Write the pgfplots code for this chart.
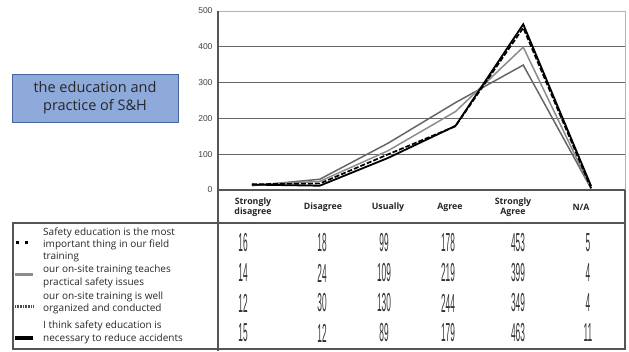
\documentclass[border=0pt]{standalone}
\usepackage{fontspec}
\setmainfont{Open Sans}
\newfontfamily\narrow[FakeStretch=0.32]{Liberation Sans}
\newfontfamily\ticksf{Liberation Sans}
\usepackage{pgfplots}
\pgfplotsset{compat=1.18}
\usepackage{pgfplotstable}
\definecolor{boxblue}{RGB}{142,170,219}
\definecolor{boxedge}{RGB}{70,100,160}
\definecolor{frame}{RGB}{85,85,85}

\pgfplotstableread{
x  s1  s2  s3  s4
0  16  14  12  15
1  18  24  30  12
2  99  109 130 89
3  178 219 244 179
4  453 399 349 463
5  5   4   4   11
}\datatab

\begin{document}
\begin{tikzpicture}[x=1pt,y=1pt]
\useasboundingbox (0,0) rectangle (629,351);
\begin{axis}[
  at={(218pt,161pt)}, anchor=south west,
  scale only axis, width=407pt, height=179pt,
  xmin=-0.5, xmax=5.5, ymin=0, ymax=500,
  xtick=\empty, ytick={0,100,...,500},
  ymajorgrids, grid style={black!60, line width=0.9pt},
  axis line style={black!30, line width=0.8pt},
  major tick length=0pt,
  tick label style={font=\ticksf\fontsize{8.5}{8.5}\selectfont, text=black!75},
  /pgf/number format/assume math mode=true,
  yticklabel style={xshift=-2pt},
  clip=false,
]
\addplot[black!60, line width=1.5pt] table[x=x,y=s3]{\datatab};
\addplot[black!45, line width=1.5pt] table[x=x,y=s2]{\datatab};
\addplot[black, line width=1.7pt, dash pattern=on 5pt off 2pt] table[x=x,y=s1]{\datatab};
\addplot[black, line width=1.8pt] table[x=x,y=s4]{\datatab};
\end{axis}

% frame lines
\draw[frame, line width=1.5pt] (218,0) -- (218,340);
\draw[frame, line width=1.5pt] (218,161) -- (625,161);
\draw[frame, line width=1.2pt] (625,161) -- (625,2);
\draw[frame, line width=1.5pt] (13,128) rectangle (625,2);

% header labels
\begin{scope}[font=\bfseries\fontsize{8.8}{10}\selectfont, align=center, text=black!85]
\node at (253,144) {Strongly\\disagree};
\node at (323,144) {Disagree};
\node at (388,144) {Usually};
\node at (450,144) {Agree};
\node at (513,144) {Strongly\\Agree};
\node at (581,144) {N/A};
\end{scope}

% table values
\begin{scope}[font=\narrow\fontsize{26}{26}\selectfont, text=black!80]
\foreach \a/\b/\c/\d/\e/\f [count=\r from 0] in {16/18/99/178/453/5, 14/24/109/219/399/4, 12/30/130/244/349/4, 15/12/89/179/463/11}{
  \pgfmathsetmacro{\yy}{108-30*\r}
  \node at (243,\yy) {\a};
  \node at (322,\yy) {\b};
  \node at (384,\yy) {\c};
  \node at (448,\yy) {\d};
  \node at (518,\yy) {\e};
  \node at (588,\yy) {\f};
}
\end{scope}

% legend markers
\draw[black, line width=3pt, dash pattern=on 3pt off 6pt] (16,108) -- (32,108);
\draw[black!45, line width=3pt] (15,77) -- (33,77);
\draw[black!70, line width=3pt, dash pattern=on 1pt off 0.6pt] (15,45) -- (33,45);
\draw[black, line width=3.5pt] (15,13) -- (33,13);

% legend text
\begin{scope}[font=\fontsize{10}{12.3}\selectfont, align=left, anchor=west, text=black!85, inner sep=0pt]
\node at (43,106) {Safety education is the most\\important thing in our field\\training};
\node at (43,74.5) {our on-site training teaches\\practical safety issues};
\node at (43,48) {our on-site training is well\\organized and conducted};
\node at (43,18.5) {I think safety education is\\necessary to reduce accidents};
\end{scope}

% title box
\draw[boxedge, fill=boxblue, line width=0.8pt] (12,229) rectangle (178,277);
\node[align=center, font=\fontsize{14.5}{18}\selectfont, text=black!85] at (95,253) {the education and\\practice of S\&H};
\end{tikzpicture}
\end{document}
